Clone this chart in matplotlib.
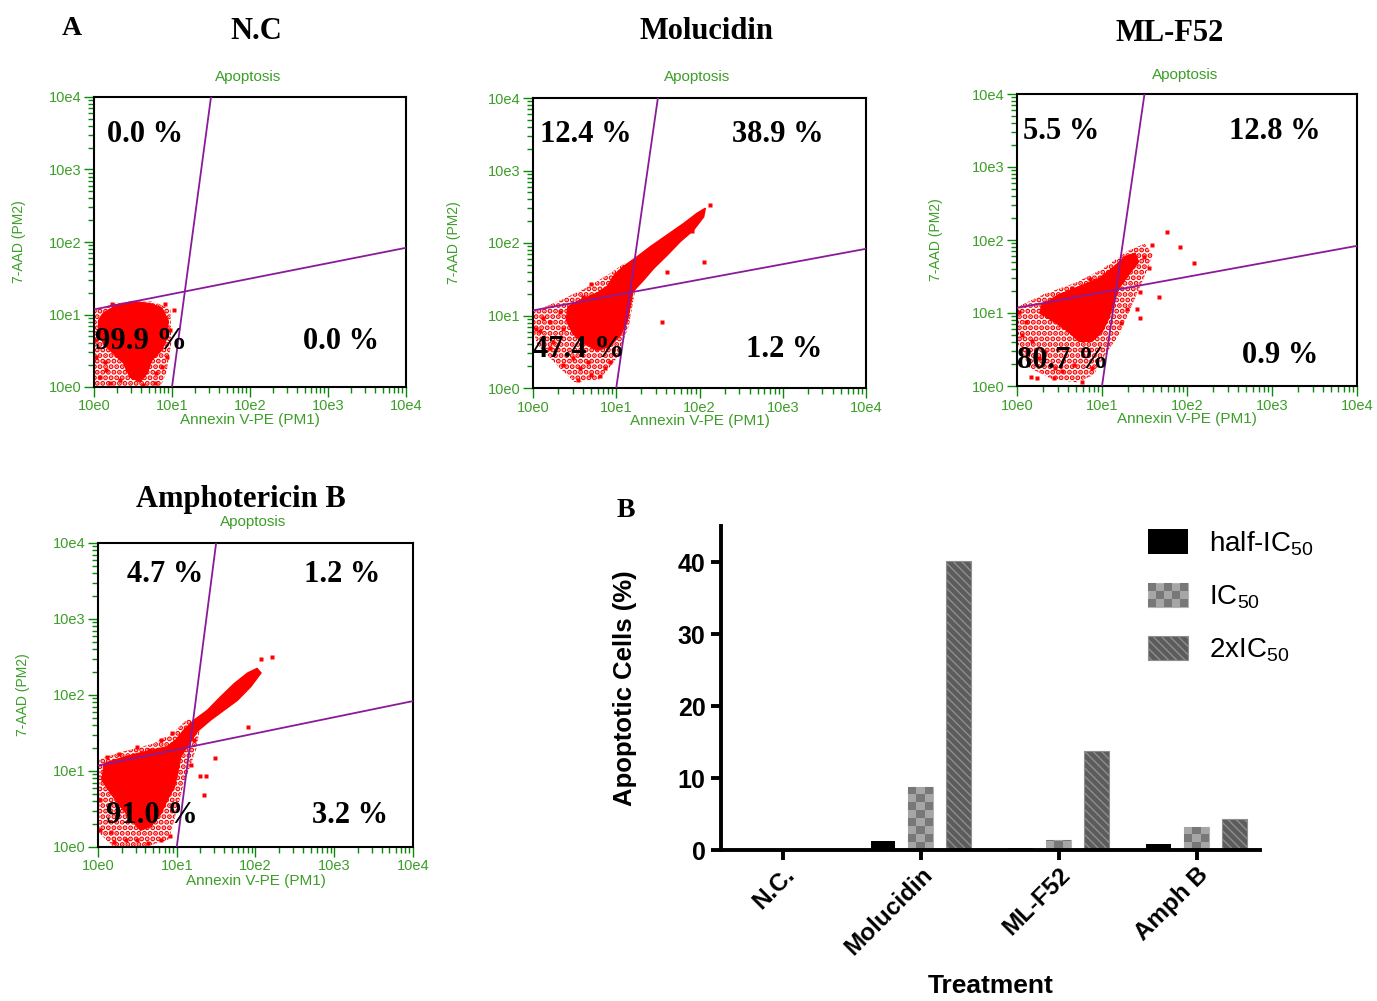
import numpy as np
import matplotlib.pyplot as plt
from matplotlib.patches import Rectangle, Polygon
from matplotlib.legend_handler import HandlerBase
from matplotlib.colors import ListedColormap
from matplotlib.ticker import NullFormatter

plt.rcParams['font.family'] = 'Liberation Sans'
plt.rcParams['mathtext.default'] = 'regular'

W, H = 1377, 1001

# ---- flow cytometry panels (values in log10 units) ----
tick_vals = [1, 10, 100, 1000, 10000]
tick_labels = ['10e0', '10e1', '10e2', '10e3', '10e4']

gate_v_x = [1.0, 1.5]
gate_v_y = [0.0, 4.0]
gate_h_x = [0.0, 4.0]
gate_h_y = [1.07, 1.92]

nc_core_x = [0.12, 0.29, 0.50, 0.72, 0.87, 0.95, 0.94, 0.87, 0.74, 0.68, 0.59, 0.46, 0.38, 0.25, 0.12, 0.06, 0.06]
nc_core_y = [1.02, 1.13, 1.18, 1.15, 1.09, 0.92, 0.69, 0.51, 0.37, 0.19, 0.07, 0.14, 0.33, 0.46, 0.60, 0.79, 0.92]
nc_halo_x = [0.00, 0.30, 0.75, 0.98, 0.99, 0.93, 0.85, 0.00]
nc_halo_y = [1.05, 1.17, 1.18, 1.08, 0.60, 0.20, 0.00, 0.00]
nc_out_x = [0.03, 0.08, 0.16, 0.21, 0.33, 0.80, 0.87, 0.93, 1.02, 0.97, 0.14, 0.78, 0.02, 0.23, 0.91, 0.42, 0.63]
nc_out_y = [0.42, 0.14, 0.23, 0.05, 0.10, 0.19, 0.28, 0.42, 1.06, 0.79, 0.35, 0.05, 0.65, 1.15, 1.15, 0.26, 0.03]
nc_pct = ['0.0 %', '99.9 %', '0.0 %']

mol_core_x = [2.07, 2.05, 1.93, 1.77, 1.61, 1.45, 1.33, 1.20, 1.17, 1.13, 1.05, 0.92, 0.77, 0.60, 0.48, 0.40,
              0.42, 0.56, 0.77, 0.89, 0.98, 1.08, 1.25, 1.41, 1.61, 1.81, 1.97]
mol_core_y = [2.48, 2.36, 2.18, 2.02, 1.83, 1.65, 1.49, 1.33, 1.14, 0.91, 0.73, 0.57, 0.52, 0.62, 0.75, 0.94,
              1.12, 1.21, 1.31, 1.40, 1.56, 1.67, 1.81, 1.95, 2.11, 2.27, 2.41]
mol_halo_x = [0.00, 0.35, 0.70, 0.95, 1.10, 1.30, 1.22, 1.15, 1.00, 0.80, 0.50, 0.30, 0.05, 0.00]
mol_halo_y = [1.05, 1.22, 1.42, 1.60, 1.72, 1.62, 1.30, 0.85, 0.40, 0.12, 0.08, 0.30, 0.60, 0.80]
mol_out_x = [0.70, 0.60, 0.32, 0.20, 0.08, 0.36, 0.24, 0.48, 0.36, 0.56, 0.66, 0.70, 0.54, 0.86, 0.80, 1.55,
             2.05, 1.61, 2.13, 1.17, 0.12, 0.04, 0.20, 0.68, 0.92, 1.91, 1.05]
mol_out_y = [1.44, 1.26, 1.05, 0.91, 0.78, 0.82, 0.64, 0.41, 0.32, 0.27, 0.36, 0.18, 0.11, 0.27, 0.16, 0.91,
             1.74, 1.60, 2.52, 1.67, 0.96, 0.82, 0.55, 0.64, 0.36, 2.16, 1.14]
mol_pct = ['12.4 %', '38.9 %', '47.4 %', '1.2 %']

mlf_core_x = [0.29, 0.49, 0.73, 0.96, 1.12, 1.27, 1.39, 1.43, 1.31, 1.20, 1.14, 1.08, 1.00, 0.88, 0.73, 0.61, 0.49, 0.37, 0.27]
mlf_core_y = [1.11, 1.25, 1.36, 1.47, 1.61, 1.77, 1.82, 1.70, 1.52, 1.34, 1.15, 0.93, 0.74, 0.61, 0.61, 0.74, 0.84, 0.93, 1.00]
mlf_halo_x = [0.00, 0.30, 0.70, 1.00, 1.30, 1.50, 1.60, 1.50, 1.35, 1.20, 1.05, 0.90, 0.70, 0.40, 0.15, 0.00]
mlf_halo_y = [1.08, 1.25, 1.42, 1.60, 1.85, 1.95, 1.80, 1.50, 1.10, 0.70, 0.45, 0.15, 0.05, 0.10, 0.25, 0.60]
mlf_out_x = [1.76, 1.92, 1.59, 1.49, 2.08, 1.55, 1.67, 1.45, 1.29, 1.41, 1.22, 1.45, 0.02, 0.10, 0.06, 0.18,
             0.12, 0.26, 0.16, 0.24, 0.43, 0.53, 0.67, 0.76, 0.88, 0.65, 0.86, 0.45, 0.33]
mlf_out_y = [2.11, 1.91, 1.93, 1.77, 1.69, 1.62, 1.22, 1.29, 1.06, 1.06, 0.86, 0.93, 1.02, 0.88, 0.70, 0.61,
             0.47, 0.38, 0.13, 0.11, 0.11, 0.20, 0.29, 0.06, 0.24, 1.34, 1.47, 0.24, 0.47]
mlf_pct = ['5.5 %', '12.8 %', '80.7 %', '0.9 %']

amb_core_x = [0.08, 0.29, 0.50, 0.71, 0.88, 0.99, 1.09, 1.22, 1.39, 1.56, 1.73, 1.90, 2.02, 2.07, 1.94, 1.77,
              1.60, 1.43, 1.26, 1.16, 1.05, 1.01, 0.97, 0.88, 0.80, 0.67, 0.54, 0.42, 0.29, 0.16, 0.05]
amb_core_y = [1.10, 1.17, 1.23, 1.28, 1.32, 1.41, 1.54, 1.67, 1.80, 1.98, 2.15, 2.29, 2.35, 2.29, 2.11, 1.93,
              1.80, 1.67, 1.52, 1.36, 1.19, 0.97, 0.79, 0.62, 0.44, 0.27, 0.22, 0.36, 0.53, 0.71, 0.88]
amb_halo_x = [0.00, 0.30, 0.70, 0.95, 1.15, 1.30, 1.25, 1.20, 1.08, 0.98, 0.90, 0.60, 0.20, 0.00]
amb_halo_y = [1.15, 1.25, 1.36, 1.50, 1.70, 1.60, 1.30, 1.15, 0.80, 0.40, 0.10, 0.00, 0.00, 0.20]
amb_out_x = [2.21, 2.07, 1.90, 1.49, 1.37, 1.30, 1.35, 1.18, 0.94, 0.80, 0.65, 0.50, 0.27, 0.12, 0.03, 0.03,
             0.16, 0.20, 0.35, 0.50, 0.63, 0.80, 0.92, 1.22]
amb_out_y = [2.50, 2.48, 1.58, 1.17, 0.93, 0.93, 0.68, 1.08, 1.50, 1.41, 1.28, 1.32, 1.23, 1.19, 0.62, 0.22,
             0.20, 0.07, 0.09, 0.09, 0.05, 0.09, 0.14, 1.41]
amb_pct = ['4.7 %', '1.2 %', '91.0 %', '3.2 %']

# ---- bar chart ----
groups = ['N.C.', 'Molucidin', 'ML-F52', 'Amph B']
half_ic50 = [0.0, 1.3, 0.3, 0.9]
ic50 = [0.0, 8.7, 1.4, 3.2]
two_ic50 = [0.0, 40.1, 13.7, 4.3]
series_names = ['half-IC$_{50}$', 'IC$_{50}$', '2xIC$_{50}$']

GREEN_TXT = '#3c9e28'
GREEN_TICK = '#0a8a0a'
PURPLE = '#8a1a9a'
CHECK_LIGHT = '#a6a6a6'
CHECK_DARK = '#787878'


def ax_rect(l, t, r, b):
    return [l / W, 1 - b / H, (r - l) / W, (b - t) / H]


def fpos(x, y):
    return x / W, 1 - y / H


def to_xy(lx, ly):
    return np.column_stack([10 ** np.array(lx), 10 ** np.array(ly)])


fig = plt.figure(figsize=(W / 100, H / 100), dpi=100)


def flow_panel(rect, halo, core, out):
    ax = fig.add_axes(ax_rect(*rect))
    ax.set_xscale('log')
    ax.set_yscale('log')
    # sparse part of the cloud as a red speckle texture
    with plt.rc_context({'hatch.linewidth': 2.6}):
        ax.add_patch(Polygon(to_xy(*halo), closed=True, facecolor='none', edgecolor='red', lw=0,
                             hatch='...', zorder=1.5))
    ax.add_patch(Polygon(to_xy(*core), closed=True, facecolor='red', edgecolor='red', lw=1.0, zorder=2))
    ax.plot(10 ** np.array(out[0]), 10 ** np.array(out[1]), 's', color='red', ms=2.6, mec='none', zorder=2)
    ax.plot(10 ** np.array(gate_v_x), 10 ** np.array(gate_v_y), color=PURPLE, lw=1.3, zorder=3)
    ax.plot(10 ** np.array(gate_h_x), 10 ** np.array(gate_h_y), color=PURPLE, lw=1.3, zorder=3)
    ax.set_xlim(1, 1e4)
    ax.set_ylim(1, 1e4)
    ax.set_xticks(tick_vals, tick_labels)
    ax.set_yticks(tick_vals, tick_labels)
    ax.xaxis.set_minor_formatter(NullFormatter())
    ax.yaxis.set_minor_formatter(NullFormatter())
    ax.tick_params(which='major', length=7.5, width=1.0, color=GREEN_TICK, labelcolor=GREEN_TXT,
                   labelsize=10.5, pad=1.5)
    ax.tick_params(which='minor', length=4.5, width=1.0, color=GREEN_TICK)
    for s in ax.spines.values():
        s.set_linewidth(1.5)
        s.set_color('black')
    ax.set_xlabel('Annexin V-PE (PM1)', color=GREEN_TXT, fontsize=11)
    ax.xaxis.set_label_coords(0.5, -0.09)
    ax.set_ylabel('7-AAD (PM2)', color=GREEN_TXT, fontsize=10)
    ax.yaxis.set_label_coords(-0.217, 0.5)
    return ax


panels = [
    dict(rect=(94, 97, 406, 387), halo=(nc_halo_x, nc_halo_y), core=(nc_core_x, nc_core_y),
         out=(nc_out_x, nc_out_y), title='N.C', title_xy=(256, 39), apop_xy=(248, 77),
         pct=nc_pct, pct_xy=[(107, 142), (95, 349), (303, 349)]),
    dict(rect=(533, 98, 866, 388), halo=(mol_halo_x, mol_halo_y), core=(mol_core_x, mol_core_y),
         out=(mol_out_x, mol_out_y), title='Molucidin', title_xy=(707, 39), apop_xy=(697, 77),
         pct=mol_pct, pct_xy=[(540, 142), (732, 142), (533, 357), (746, 357)]),
    dict(rect=(1017, 94, 1357, 386), halo=(mlf_halo_x, mlf_halo_y), core=(mlf_core_x, mlf_core_y),
         out=(mlf_out_x, mlf_out_y), title='ML-F52', title_xy=(1170, 41), apop_xy=(1185, 75),
         pct=mlf_pct, pct_xy=[(1023, 139), (1229, 139), (1017, 368), (1242, 363)]),
    dict(rect=(98, 543, 413, 847), halo=(amb_halo_x, amb_halo_y), core=(amb_core_x, amb_core_y),
         out=(amb_out_x, amb_out_y), title='Amphotericin B', title_xy=(241, 507), apop_xy=(253, 522),
         pct=amb_pct, pct_xy=[(127, 582), (304, 582), (106, 823), (312, 823)]),
]

serif_bold = dict(family='Liberation Serif', weight='bold')

for p in panels:
    flow_panel(p['rect'], p['halo'], p['core'], p['out'])
    fig.text(*fpos(*p['title_xy']), p['title'], ha='center', va='baseline', fontsize=22, **serif_bold)
    fig.text(*fpos(*p['apop_xy']), 'Apoptosis', ha='center', va='center', fontsize=11, color=GREEN_TXT)
    for txt, xy in zip(p['pct'], p['pct_xy']):
        fig.text(*fpos(*xy), txt, ha='left', va='baseline', fontsize=22, zorder=10, **serif_bold)

fig.text(*fpos(62, 35), 'A', ha='left', va='baseline', fontsize=20, **serif_bold)
fig.text(*fpos(617, 517), 'B', ha='left', va='baseline', fontsize=20, **serif_bold)

# ---- bar chart ----
bx = fig.add_axes(ax_rect(721, 526, 1260, 850))
x = np.arange(len(groups))
bw, step = 0.18, 0.275
b_half = bx.bar(x - step, half_ic50, bw, color='black', zorder=2)
b_ic = bx.bar(x, ic50, bw, facecolor=CHECK_LIGHT, edgecolor='#b4b4b4', lw=0.8, zorder=2)
b_two = bx.bar(x + step, two_ic50, bw, facecolor='#5c5c5c', edgecolor='#8e8e8e', lw=0.8,
               hatch='\\\\\\\\', zorder=2)

checker_cmap = ListedColormap([CHECK_LIGHT, CHECK_DARK])
cell_h = 1.1
for patch, h in zip(b_ic.patches, ic50):
    if h <= 0:
        continue
    x0 = patch.get_x()
    ny = int(np.ceil(h / cell_h))
    board = np.indices((ny, 3)).sum(axis=0) % 2
    im = bx.imshow(board, cmap=checker_cmap, extent=(x0, x0 + bw, 0, ny * cell_h), origin='lower',
                   aspect='auto', interpolation='nearest', zorder=2.5)
    im.set_clip_path(patch)

bx.set_xlim(-0.45, 3.46)
bx.set_ylim(0, 45)
bx.set_yticks([0, 10, 20, 30, 40])
bx.set_xticks(x, groups, rotation=45, ha='right', rotation_mode='anchor')
for s in ['top', 'right']:
    bx.spines[s].set_visible(False)
for s in ['left', 'bottom']:
    bx.spines[s].set_linewidth(2.8)
bx.tick_params(axis='both', width=2.8, length=7.5)
bx.tick_params(axis='x', pad=2)
for lab in bx.get_yticklabels():
    lab.set_fontsize(18)
    lab.set_fontweight('bold')
for lab in bx.get_xticklabels():
    lab.set_fontsize(17.5)
    lab.set_fontweight('bold')
bx.set_ylabel('Apoptotic Cells (%)', fontsize=18.5, fontweight='bold')
bx.yaxis.set_label_coords(-0.156, 0.5)
bx.set_xlabel('Treatment', fontsize=19, fontweight='bold')
bx.xaxis.set_label_coords(0.5, -0.382)


class CheckerHandler(HandlerBase):
    def create_artists(self, legend, orig_handle, xdescent, ydescent, width, height, fontsize, trans):
        x0, y0 = -xdescent, -ydescent
        arts = [Rectangle((x0, y0), width, height, facecolor=CHECK_LIGHT, edgecolor='#b4b4b4',
                          lw=0.8, transform=trans)]
        nx, ny = 5, 3
        cw, ch = width / nx, height / ny
        for i in range(nx):
            for j in range(ny):
                if (i + j) % 2 == 0:
                    arts.append(Rectangle((x0 + i * cw, y0 + j * ch), cw, ch, facecolor=CHECK_DARK,
                                          edgecolor='none', transform=trans))
        return arts


bx.legend([b_half, b_ic, b_two], series_names, handler_map={b_ic: CheckerHandler()},
          loc='upper left', bbox_to_anchor=fpos(1148, 529), bbox_transform=fig.transFigure,
          frameon=False, fontsize=20, handlelength=1.44, handleheight=0.97, handletextpad=0.75,
          labelspacing=0.9, borderpad=0, borderaxespad=0)

fig.savefig('out.png', dpi=100)
